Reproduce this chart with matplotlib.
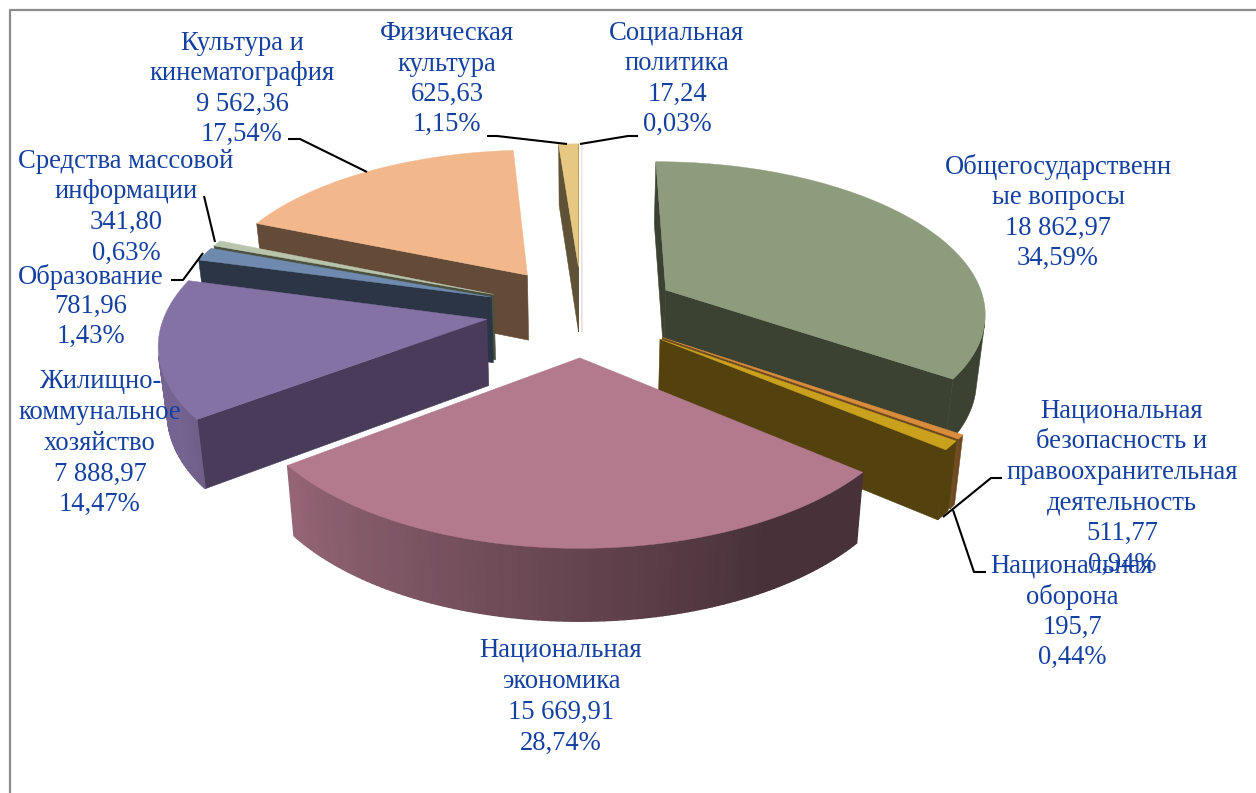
import numpy as np
import matplotlib
matplotlib.use("Agg")
import matplotlib.pyplot as plt

# ---- data ---------------------------------------------------------------
names = ["Общегосударственн\nые вопросы", "Национальная\nоборона",
         "Национальная\nбезопасность и\nправоохранительная\nдеятельность",
         "Национальная\nэкономика", "Жилищно-\nкоммунальное\nхозяйство",
         "Образование", "Средства массовой\nинформации",
         "Культура и\nкинематография", "Физическая\nкультура",
         "Социальная\nполитика"]
amounts = ["18 862,97", "195,7", "511,77", "15 669,91", "7 888,97",
           "781,96", "341,80", "9 562,36", "625,63", "17,24"]
shares = [34.59, 0.44, 0.94, 28.74, 14.47, 1.43, 0.63, 17.54, 1.15, 0.03]

# ---- style ---------------------------------------------------------------
top_colors = ["#8E9C7E", "#D98C3C", "#C9A11C", "#B37A8E", "#8572A5",
              "#6F8AAE", "#B9C4AC", "#F2B88C", "#E6C882", "#F0E6E8"]
wall_colors = ["#3C4232", "#6E4A20", "#53420E", "#B37A8E", "#8572A5",
               "#2C3545", "#4C5240", "#634B38", "#5F5236", "#E6DDE0"]
radial_colors = ["#3C4232", "#6E4A20", "#53420E", "#472F38", "#483C5A",
                 "#2C3545", "#4C5240", "#634B38", "#5F5236", "#E6DDE0"]
TEXT = "#1440A0"
# label centre x, y of first line, line pitch
label_pos = [(1058, 164, 30.6), (1072, 563, 30.6), (1122, 408, 30.6),
             (561, 647, 31), (100, 379, 30.7), (91, 274, 29.5),
             (126, 158, 30.7), (242, 40, 30.5), (447, 31, 30.3), (677, 30, 30.6)]
leaders = [[(986, 572), (974, 572), (953, 510)],
           [(1002, 478), (991, 478), (943, 517)],
           [(171, 280), (183, 280), (203, 253)],
           [(204, 196), (215, 242)],
           [(288, 139), (300, 139), (367, 172)],
           [(487, 136), (497, 136), (567, 144)],
           [(580, 144), (628, 136), (638, 136)]]

EXPLODE = 0.30
CX, A_TOP, A_BOT = 582, 321, 314
PERSP = 0.1346
V0_TOP, VK_TOP = 310.7, -109.0
V0_BOT, VK_BOT = 376.7, -104.5


def project(X, Y, bottom=False):
    w = 1 + PERSP * Y
    if bottom:
        return CX + A_BOT * X / w, (V0_BOT + VK_BOT * Y) / w
    return CX + A_TOP * X / w, (V0_TOP + VK_TOP * Y) / w


def shoelace(pts):
    p = np.asarray(pts)
    x, y = p[:, 0], p[:, 1]
    return 0.5 * np.sum(x * np.roll(y, -1) - np.roll(x, -1) * y)


def shade(color, f):
    return tuple(min(1, c * f) for c in matplotlib.colors.to_rgb(color))


def rim_factor(theta):
    return float(np.clip(0.40 + (theta - 150) / 85 * 0.44, 0.40, 0.88))


fig = plt.figure(figsize=(12.56, 7.93), dpi=100, facecolor="white")
ax = fig.add_axes([0, 0, 1, 1])
ax.set_xlim(0, 1256)
ax.set_ylim(793, 0)
ax.axis("off")

# frame
ax.plot([10, 10, 1256], [793, 10, 10], color="#8C8C8C", lw=1.6, zorder=0)

edges = np.concatenate([[0], np.cumsum(shares)]) / np.sum(shares) * 360
order = [9, 8, 7, 6, 5, 4, 0, 1, 2, 3]

z = 1
for i in order:
    a0, a1 = edges[i], edges[i + 1]
    mid = np.radians((a0 + a1) / 2)
    ox, oy = EXPLODE * np.sin(mid), EXPLODE * np.cos(mid)
    n = max(3, int((a1 - a0) / 1.0) + 2)
    th = np.linspace(a0, a1, n)
    X = ox + np.sin(np.radians(th))
    Y = oy + np.cos(np.radians(th))
    top = np.array(project(X, Y)).T
    bot = np.array(project(X, Y, bottom=True)).T
    at = np.array(project(ox, oy))
    ab = np.array(project(ox, oy, bottom=True))

    # radial walls
    for p1t, p2t, p2b, p1b in [(at, top[0], bot[0], ab), (top[-1], at, ab, bot[-1])]:
        q = [p1t, p2t, p2b, p1b]
        if shoelace(q) < 0:
            ax.fill(*zip(*q), color=radial_colors[i], lw=0.4, zorder=z)
    # outer wall
    visible = [shoelace([top[k], top[k + 1], bot[k + 1], bot[k]]) < 0 for k in range(n - 1)]
    if i in (3, 4):
        for k in range(n - 1):
            if visible[k]:
                q = [top[k], top[k + 1], bot[k + 1], bot[k]]
                tm = (th[k] + th[k + 1]) / 2
                ax.fill(*zip(*q), color=shade(top_colors[i], rim_factor(tm)),
                        lw=1.0, zorder=z)
    elif any(visible):
        idx = [k for k, v in enumerate(visible) if v]
        k0, k1 = idx[0], idx[-1] + 1
        q = np.vstack([top[k0:k1 + 1], bot[k0:k1 + 1][::-1]])
        ax.fill(q[:, 0], q[:, 1], color=wall_colors[i], lw=0.4, zorder=z)
    # top face
    poly = np.vstack([at, top])
    ax.fill(poly[:, 0], poly[:, 1], color=top_colors[i], lw=0.3, zorder=z + 0.5)
    z += 1

for pts in leaders:
    xs, ys = zip(*pts)
    ax.plot(xs, ys, color="black", lw=1.5, zorder=30, solid_capstyle="butt")

for i, (cx, y0, pitch) in enumerate(label_pos):
    lines = names[i].split("\n") + [amounts[i], f"{shares[i]:.2f}%".replace(".", ",")]
    for k, s in enumerate(lines):
        ax.text(cx, y0 + k * pitch, s, ha="center", va="center_baseline",
                family="Liberation Serif", fontsize=19.2, color=TEXT, zorder=40 + i)

fig.savefig("out.png", dpi=100, facecolor="white")
